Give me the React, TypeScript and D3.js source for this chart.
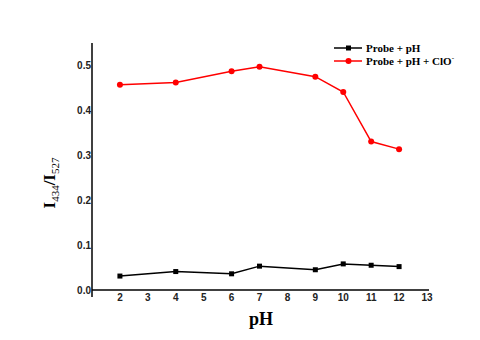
import React from "react";
import * as d3 from "d3";

const phValues = [2, 4, 6, 7, 9, 10, 11, 12];
const probeValues = [0.031, 0.041, 0.036, 0.053, 0.045, 0.058, 0.055, 0.052];
const clOValues = [0.456, 0.461, 0.486, 0.496, 0.474, 0.44, 0.33, 0.313];
const xTicks = [2, 3, 4, 5, 6, 7, 8, 9, 10, 11, 12, 13];
const yTicks = [0, 0.1, 0.2, 0.3, 0.4, 0.5];

export default function App() {
  const W = 480, H = 340;
  const x = d3.scaleLinear().domain([1, 13]).range([92, 427]);
  const y = d3.scaleLinear().domain([0, 0.5]).range([290, 65]);
  const line = d3.line<[number, number]>().x(d => x(d[0])).y(d => y(d[1]));
  const black = phValues.map((p, i) => [p, probeValues[i]] as [number, number]);
  const red = phValues.map((p, i) => [p, clOValues[i]] as [number, number]);
  const tickFont = "Liberation Sans, Arial, sans-serif";
  const serif = "Liberation Serif, Times New Roman, serif";
  return (
    <svg width={W} height={H} style={{ position: "absolute", left: 0, top: 0, background: "#fff" }}>
      <rect width={W} height={H} fill="#fff" />
      {/* axes */}
      <line x1={x(1)} x2={x(1)} y1={43} y2={297} stroke="#000" strokeWidth={1.5} />
      <line x1={x(1)} x2={x(13) + 2} y1={y(0)} y2={y(0)} stroke="#000" strokeWidth={1.5} />
      {yTicks.map(t => (
        <text key={t} x={x(1) - 1} y={y(t) + 3.5} textAnchor="end" fontFamily={tickFont} fontWeight="bold" fontSize={10} fill="#222">
          {t.toFixed(1)}
        </text>
      ))}
      {xTicks.map(t => (
        <text key={t} x={x(t)} y={y(0) + 11} textAnchor="middle" fontFamily={tickFont} fontWeight="bold" fontSize={10} fill="#222">
          {t}
        </text>
      ))}
      {/* series */}
      <path d={line(black) || ""} fill="none" stroke="#000" strokeWidth={1.5} />
      {black.map((d, i) => (
        <rect key={i} x={x(d[0]) - 2.5} y={y(d[1]) - 2.5} width={5} height={5} fill="#000" />
      ))}
      <path d={line(red) || ""} fill="none" stroke="#ff0000" strokeWidth={1.5} />
      {red.map((d, i) => (
        <circle key={i} cx={x(d[0])} cy={y(d[1])} r={3} fill="#ff0000" />
      ))}
      {/* legend */}
      <line x1={334} x2={362} y1={48} y2={48} stroke="#000" strokeWidth={1.5} />
      <rect x={346} y={45.5} width={5} height={5} fill="#000" />
      <text x={366} y={52} fontFamily={serif} fontWeight="bold" fontSize={11} fill="#000">Probe + pH</text>
      <line x1={334} x2={362} y1={61} y2={61} stroke="#ff0000" strokeWidth={1.5} />
      <circle cx={348.5} cy={61} r={3} fill="#ff0000" />
      <text x={366} y={65} fontFamily={serif} fontWeight="bold" fontSize={11} fill="#000">
        Probe + pH + ClO<tspan dy={-5} fontSize={7}>-</tspan>
      </text>
      {/* axis titles */}
      <text transform="translate(55,183) rotate(-90)" textAnchor="middle" fontFamily={serif} fontWeight="bold" fontSize={17} fill="#000">
        I<tspan fontSize={11} fontWeight="normal" dy={4}>434</tspan><tspan dy={-4}>/I</tspan><tspan fontSize={11} fontWeight="normal" dy={4}>527</tspan>
      </text>
      <text x={261} y={325} textAnchor="middle" fontFamily={serif} fontWeight="bold" fontSize={18} fill="#000">pH</text>
    </svg>
  );
}
